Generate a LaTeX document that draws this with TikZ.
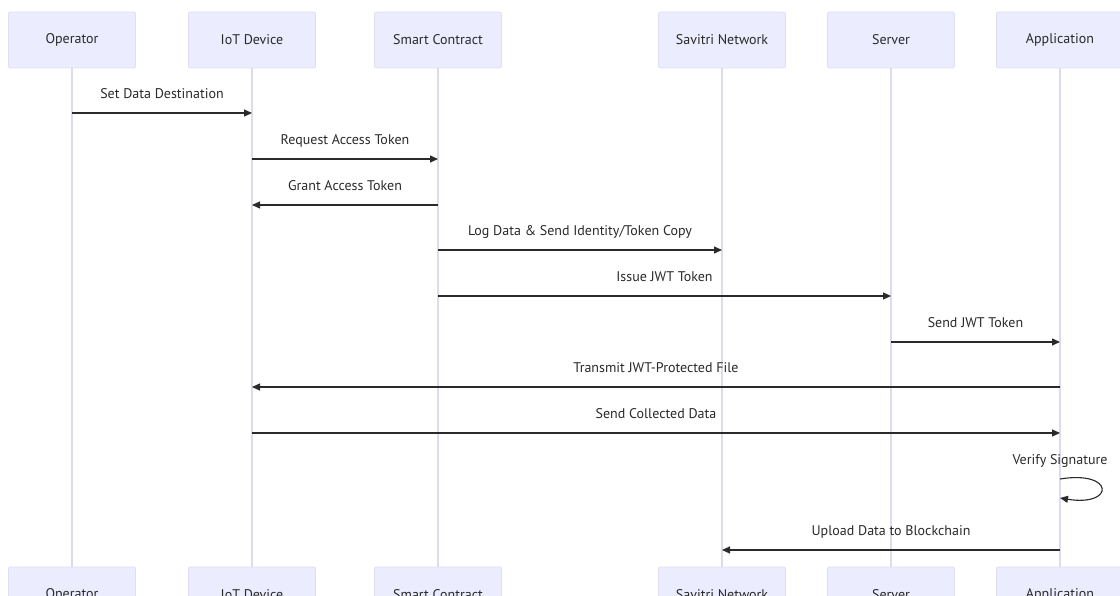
\documentclass[tikz,border=0pt]{standalone}
\usepackage{fontspec}
\setmainfont{PT Sans}
\usetikzlibrary{arrows.meta}
\definecolor{actfill}{HTML}{ECECFF}
\definecolor{actline}{HTML}{DEDEF0}
\definecolor{lifecol}{HTML}{DCDCEE}
\definecolor{ink}{HTML}{2A2A2A}
\tikzset{
  actor/.style={draw=actline, fill=actfill, rounded corners=2pt, line width=0.8pt,
    minimum width=127pt, minimum height=56pt, inner sep=0pt,
    font=\fontsize{14}{16}\selectfont, text=ink},
  lifeline/.style={draw=lifecol, line width=1.4pt},
  msg/.style={draw=ink, line width=1.1pt, -{Triangle[length=8pt,width=7pt]}},
  lbl/.style={font=\fontsize{14}{16}\selectfont, text=ink, inner sep=0pt,
    text height=10pt, text depth=0pt},
}
\begin{document}
\begin{tikzpicture}[x=1pt,y=-1pt]
\clip (0,0) rectangle (1120,596);
\fill[white] (0,0) rectangle (1120,596);

% lifelines first, so the actor boxes sit on top
\foreach \lx in {72,252,438,722,891,1060}
  \draw[lifeline] (\lx,68) -- (\lx,567);

% actors, top row
\node[actor] (opT)  at (72,40)   {Operator};
\node[actor] (iotT) at (252,40)  {IoT Device};
\node[actor] (scT)  at (438,40)  {Smart Contract};
\node[actor] (svT)  at (722,40)  {Savitri Network};
\node[actor] (srT)  at (891,40)  {Server};
\node[actor] (apT)  at (1060,40) {Application};

% actors, bottom row
\node[actor] (opB)  at (72,595)   {Operator};
\node[actor] (iotB) at (252,595)  {IoT Device};
\node[actor] (scB)  at (438,595)  {Smart Contract};
\node[actor] (svB)  at (722,595)  {Savitri Network};
\node[actor] (srB)  at (891,595)  {Server};
\node[actor] (apB)  at (1060,595) {Application};

% message rows
\coordinate (m1) at (0,113);
\coordinate (m2) at (0,159);
\coordinate (m3) at (0,205);
\coordinate (m4) at (0,250);
\coordinate (m5) at (0,296);
\coordinate (m6) at (0,342);
\coordinate (m7) at (0,387);
\coordinate (m8) at (0,433);
\coordinate (m9) at (0,479);
\coordinate (m10) at (0,550);

\draw[msg] (opT.south |- m1) -- node[lbl, above=14pt] {Set Data Destination} (iotT.south |- m1);
\draw[msg] (iotT.south |- m2) -- node[lbl, above=14pt] {Request Access Token} (scT.south |- m2);
\draw[msg] (scT.south |- m3) -- node[lbl, above=14pt] {Grant Access Token} (iotT.south |- m3);
\draw[msg] (scT.south |- m4) -- node[lbl, above=14pt] {Log Data \& Send Identity/Token Copy} (svT.south |- m4);
\draw[msg] (scT.south |- m5) -- node[lbl, above=14pt] {Issue JWT Token} (srT.south |- m5);
\draw[msg] (srT.south |- m6) -- node[lbl, above=14pt] {Send JWT Token} (apT.south |- m6);
\draw[msg] (apT.south |- m7) -- node[lbl, above=14pt] {Transmit JWT-Protected File} (iotT.south |- m7);
\draw[msg] (iotT.south |- m8) -- node[lbl, above=14pt] {Send Collected Data} (apT.south |- m8);

% self message on the application lifeline
\coordinate (selfA) at (apT.south |- m9);
\node[lbl, above=14pt] at (selfA) {Verify Signature};
\draw[msg] (selfA) .. controls +(55,-9) and +(55,9) .. ([yshift=-19pt]selfA);

\draw[msg] (apT.south |- m10) -- node[lbl, above=14pt] {Upload Data to Blockchain} (svT.south |- m10);
\end{tikzpicture}
\end{document}
